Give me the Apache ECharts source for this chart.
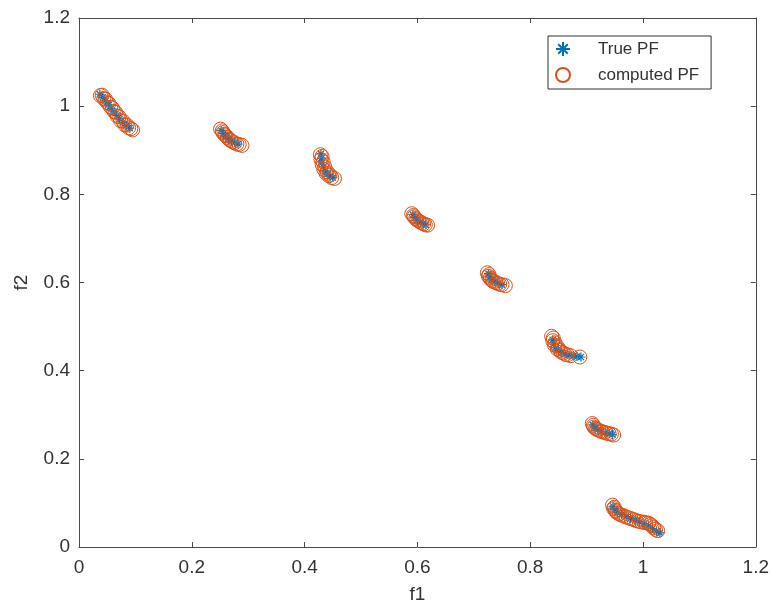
<!DOCTYPE html>
<html>
<head>
<meta charset="utf-8">
<script src="https://cdn.jsdelivr.net/npm/echarts@6/dist/echarts.min.js"></script>
<style>
html,body{margin:0;padding:0;background:#fff;}
#chart{width:772px;height:609px;}
</style>
</head>
<body>
<div id="chart"></div>
<script>
// ---- data ----
const seriesNames = ['True PF', 'computed PF'];
const xTicks = [0, 0.2, 0.4, 0.6, 0.8, 1, 1.2];
const yTicks = [0, 0.2, 0.4, 0.6, 0.8, 1, 1.2];

const trueX = [
  0.037,0.042,0.047,0.052,0.057,0.062,0.067,0.072,0.078,0.084,0.090,
  0.252,0.256,0.260,0.265,0.270,0.276,0.282,
  0.429,0.430,0.431,0.433,0.436,0.440,0.445,0.450,
  0.592,0.596,0.600,0.605,0.610,0.615,
  0.726,0.728,0.732,0.737,0.743,0.750,
  0.840,0.842,0.845,0.850,0.856,0.862,0.869,0.876,0.883,0.890,
  0.911,0.915,0.920,0.926,0.933,0.940,0.946,
  0.947,0.950,0.955,0.962,0.970,0.978,0.986,0.994,1.002,1.010,1.017,1.024,1.030
];
const trueY = [
  1.027,1.020,1.012,1.003,0.995,0.987,0.979,0.971,0.963,0.956,0.950,
  0.945,0.938,0.932,0.926,0.921,0.917,0.914,
  0.892,0.882,0.872,0.862,0.853,0.846,0.841,0.838,
  0.754,0.747,0.741,0.737,0.734,0.731,
  0.620,0.612,0.606,0.602,0.598,0.595,
  0.470,0.460,0.452,0.446,0.441,0.438,0.435,0.433,0.432,0.431,
  0.277,0.270,0.266,0.262,0.259,0.257,0.255,
  0.092,0.084,0.078,0.074,0.069,0.065,0.061,0.057,0.053,0.048,0.042,0.036,0.032
];
const compX = [
  0.038,0.044,0.050,0.056,0.062,0.068,0.074,0.081,0.088,0.095,
  0.041,0.047,0.053,0.059,0.065,0.071,0.078,0.085,0.092,
  0.251,0.255,0.260,0.266,0.272,0.280,0.289,
  0.254,0.258,0.263,0.269,0.276,0.284,
  0.428,0.429,0.431,0.434,0.438,0.443,0.448,0.453,
  0.431,0.433,0.436,0.440,0.445,
  0.590,0.594,0.599,0.605,0.611,0.618,
  0.593,0.597,0.602,0.608,0.614,
  0.724,0.726,0.730,0.735,0.742,0.750,0.756,
  0.727,0.729,0.733,0.739,0.746,
  0.838,0.840,0.843,0.848,0.855,0.862,0.872,0.888,
  0.841,0.844,0.849,0.853,0.859,0.866,
  0.910,0.913,0.918,0.925,0.932,0.940,0.948,
  0.912,0.916,0.921,0.928,0.936,0.944,
  0.946,0.948,0.952,0.958,0.966,0.975,0.984,0.993,1.002,1.010,1.016,1.022,
  0.949,0.951,0.955,0.962,0.970,0.979,0.988,0.997,1.005,1.013,1.019,1.026
];
const compY = [
  1.024,1.017,1.008,0.998,0.988,0.977,0.967,0.958,0.951,0.946,
  1.025,1.016,1.006,0.996,0.986,0.976,0.966,0.957,0.949,
  0.948,0.940,0.933,0.925,0.919,0.914,0.911,
  0.944,0.936,0.929,0.922,0.917,0.913,
  0.890,0.879,0.868,0.857,0.848,0.842,0.838,0.836,
  0.886,0.874,0.862,0.851,0.844,
  0.756,0.749,0.742,0.737,0.733,0.730,
  0.752,0.745,0.740,0.735,0.731,
  0.622,0.614,0.607,0.602,0.598,0.595,0.593,
  0.618,0.610,0.604,0.600,0.596,
  0.478,0.468,0.458,0.449,0.442,0.437,0.434,0.431,
  0.474,0.463,0.453,0.446,0.440,0.436,
  0.280,0.272,0.267,0.263,0.260,0.257,0.254,
  0.276,0.269,0.265,0.261,0.258,0.256,
  0.095,0.087,0.080,0.075,0.071,0.066,0.062,0.058,0.056,0.054,0.048,0.040,
  0.090,0.083,0.077,0.072,0.068,0.064,0.060,0.057,0.055,0.051,0.044,0.037
];

const FONT = '"Liberation Sans", Arial, Helvetica, sans-serif';
const AXIS_COLOR = '#4a4a4a';
const TEXT_COLOR = '#333333';

const trueData = trueX.map((x, i) => [x, trueY[i]]);
const compData = compX.map((x, i) => [x, compY[i]]);

const chart = echarts.init(document.getElementById('chart'), null, {renderer: 'canvas'});

function baseAxis(extra) {
  return Object.assign({
    type: 'value',
    min: xTicks[0],
    max: xTicks[xTicks.length - 1],
    interval: xTicks[1] - xTicks[0],
    splitLine: {show: false},
    axisLine: {show: true, onZero: false, lineStyle: {color: AXIS_COLOR, width: 1}},
    axisTick: {show: true, inside: true, length: 5, lineStyle: {color: AXIS_COLOR}},
  }, extra);
}

const option = {
  backgroundColor: '#ffffff',
  animation: false,
  grid: {left: 79, right: 15, top: 18, bottom: 58, containLabel: false},
  legend: {
    data: seriesNames,
    orient: 'vertical',
    left: 548,
    top: 36,
    padding: [3, 12, 4, 7],
    itemWidth: 60,
    itemHeight: 14,
    itemGap: 6,
    borderColor: '#333333',
    borderWidth: 1,
    backgroundColor: '#ffffff',
    textStyle: {fontFamily: FONT, fontSize: 17, color: TEXT_COLOR, lineHeight: 20}
  },
  xAxis: [
    baseAxis({
      position: 'bottom',
      name: 'f1',
      nameLocation: 'middle',
      nameGap: 38,
      nameTextStyle: {fontFamily: FONT, fontSize: 19, color: TEXT_COLOR},
      axisLabel: {fontFamily: FONT, fontSize: 19, color: TEXT_COLOR, margin: 11}
    }),
    baseAxis({position: 'top', axisLabel: {show: false}})
  ],
  yAxis: [
    baseAxis({
      min: yTicks[0], max: yTicks[yTicks.length - 1], interval: yTicks[1] - yTicks[0],
      position: 'left',
      name: 'f2',
      nameLocation: 'middle',
      nameGap: 48,
      nameTextStyle: {fontFamily: FONT, fontSize: 19, color: TEXT_COLOR},
      axisLabel: {fontFamily: FONT, fontSize: 19, color: TEXT_COLOR, margin: 9}
    }),
    baseAxis({
      min: yTicks[0], max: yTicks[yTicks.length - 1], interval: yTicks[1] - yTicks[0],
      position: 'right', axisLabel: {show: false}
    })
  ],
  series: [
    {
      name: seriesNames[0],
      type: 'scatter',
      xAxisIndex: 0, yAxisIndex: 0,
      data: trueData,
      symbol: 'path://M5,0L5,10M0,5L10,5M1.6,1.6L8.4,8.4M1.6,8.4L8.4,1.6',
      symbolSize: 9,
      itemStyle: {color: 'rgba(0,0,0,0)', borderColor: '#0072BD', borderWidth: 1.2, opacity: 1},
      emphasis: {disabled: true},
      z: 2
    },
    {
      name: seriesNames[1],
      type: 'scatter',
      xAxisIndex: 0, yAxisIndex: 0,
      data: compData,
      symbol: 'circle',
      symbolSize: 14,
      itemStyle: {color: 'rgba(0,0,0,0)', borderColor: '#D95319', borderWidth: 1, opacity: 1},
      emphasis: {disabled: true},
      z: 3
    }
  ]
};
chart.setOption(option);
</script>
</body>
</html>
